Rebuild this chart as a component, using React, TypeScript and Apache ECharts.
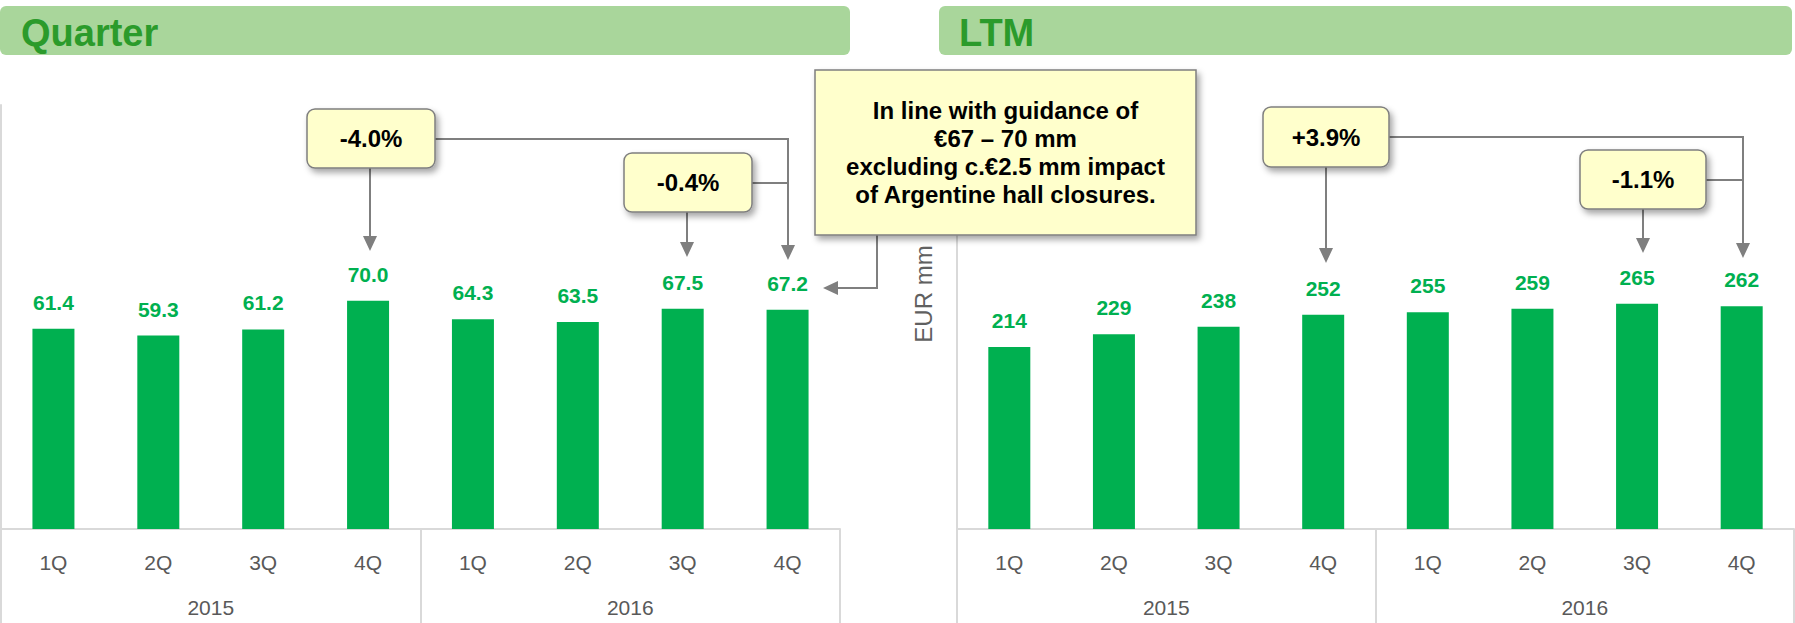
import React, { useEffect, useRef } from "react";
import * as echarts from "echarts";

const quarters = ["1Q", "2Q", "3Q", "4Q", "1Q", "2Q", "3Q", "4Q"];
const years = ["2015", "2016"];
const quarterValues = [61.4, 59.3, 61.2, 70.0, 64.3, 63.5, 67.5, 67.2];
const ltmValues = [214, 229, 238, 252, 255, 259, 265, 262];
const panelTitles = ["Quarter", "LTM"];
const changeLabels = ["-4.0%", "-0.4%", "+3.9%", "-1.1%"];
const guidanceText = [
  "In line with guidance of",
  "€67 – 70 mm",
  "excluding c.€2.5 mm impact",
  "of Argentine hall closures.",
];
const unitLabel = "EUR mm";

const FONT = "'Liberation Sans', Arial, sans-serif";
const GREEN = "#00b050";
const AXIS = "#d9d9d9";
const ARROW = "#7f7f7f";

function arrowDown(x: number, y0: number, tip: number) {
  return [
    { type: "line", shape: { x1: x, y1: y0, x2: x, y2: tip - 14 }, style: { stroke: ARROW, lineWidth: 2 } },
    { type: "polygon", shape: { points: [[x - 7, tip - 15], [x + 7, tip - 15], [x, tip]] }, style: { fill: ARROW } },
  ];
}

function box(x: number, y: number, w: number, h: number, text: string, r = 8) {
  return [
    {
      type: "rect",
      shape: { x, y, width: w, height: h, r },
      style: {
        fill: "#ffffcc",
        stroke: "#7f7f7f",
        lineWidth: 1.5,
        shadowBlur: 6,
        shadowOffsetX: 3,
        shadowOffsetY: 4,
        shadowColor: "rgba(0,0,0,0.35)",
      },
      z: 10,
    },
    {
      type: "text",
      x: x + w / 2,
      y: y + h / 2,
      style: {
        text,
        fill: "#000",
        font: `bold 24px ${FONT}`,
        align: "center",
        verticalAlign: "middle",
        lineHeight: 28,
      },
      z: 11,
    },
  ];
}

function makeAxes(gridIndex: number, max: number) {
  const x = [
    {
      type: "category",
      gridIndex,
      data: quarters,
      position: "bottom",
      axisLine: { show: true, lineStyle: { color: AXIS, width: 2 } },
      axisTick: { show: false },
      axisLabel: { margin: 23, fontSize: 21, color: "#595959", fontFamily: FONT, interval: 0 },
    },
    {
      type: "category",
      gridIndex,
      data: years,
      position: "bottom",
      axisLine: { show: false },
      axisTick: { show: true, length: 94, interval: 0, lineStyle: { color: AXIS, width: 2 } },
      axisLabel: { margin: 68, fontSize: 21, color: "#595959", fontFamily: FONT, interval: 0 },
    },
  ];
  const y = {
    type: "value",
    gridIndex,
    min: 0,
    max,
    axisLine: { show: true, lineStyle: { color: AXIS, width: 2 } },
    axisTick: { show: false },
    axisLabel: { show: false },
    splitLine: { show: false },
  };
  return { x, y };
}

export default function App() {
  const ref = useRef<HTMLDivElement>(null);
  useEffect(() => {
    if (!ref.current) return;
    const chart = echarts.init(ref.current, null, { renderer: "svg" });
    const a1 = makeAxes(0, 130);
    const a2 = makeAxes(1, 500);
    const labelStyle = {
      show: true,
      position: "top",
      distance: 16,
      color: GREEN,
      fontWeight: "bold",
      fontSize: 21,
      fontFamily: FONT,
    };
    const graphic: any[] = [
      { type: "rect", shape: { x: 0, y: 6, width: 850, height: 49, r: 6 }, style: { fill: "#a9d69b" } },
      { type: "text", x: 21, y: 33, style: { text: panelTitles[0], fill: "#2b9b2b", font: `bold 38px ${FONT}`, verticalAlign: "middle" } },
      { type: "rect", shape: { x: 939, y: 6, width: 853, height: 49, r: 6 }, style: { fill: "#a9d69b" } },
      { type: "text", x: 959, y: 33, style: { text: panelTitles[1], fill: "#2b9b2b", font: `bold 38px ${FONT}`, verticalAlign: "middle" } },
      {
        type: "text",
        x: 923,
        y: 294,
        rotation: Math.PI / 2,
        style: { text: unitLabel, fill: "#606060", font: `24px ${FONT}`, align: "center", verticalAlign: "middle" },
      },
      // left annotations
      ...arrowDown(370, 168, 251),
      { type: "polyline", shape: { points: [[435, 139], [788, 139], [788, 246]] }, style: { stroke: ARROW, lineWidth: 2, fill: null } },
      { type: "polygon", shape: { points: [[781, 245], [795, 245], [788, 260]] }, style: { fill: ARROW } },
      { type: "line", shape: { x1: 752, y1: 183, x2: 788, y2: 183 }, style: { stroke: ARROW, lineWidth: 2 } },
      ...arrowDown(687, 212, 257),
      { type: "polyline", shape: { points: [[877, 235], [877, 288], [836, 288]] }, style: { stroke: ARROW, lineWidth: 2, fill: null } },
      { type: "polygon", shape: { points: [[838, 281], [838, 295], [823, 288]] }, style: { fill: ARROW } },
      ...box(307, 109, 128, 59, changeLabels[0]),
      ...box(624, 153, 128, 59, changeLabels[1]),
      // right annotations
      ...arrowDown(1326, 167, 263),
      { type: "polyline", shape: { points: [[1389, 137], [1743, 137], [1743, 244]] }, style: { stroke: ARROW, lineWidth: 2, fill: null } },
      { type: "polygon", shape: { points: [[1736, 243], [1750, 243], [1743, 258]] }, style: { fill: ARROW } },
      { type: "line", shape: { x1: 1706, y1: 180, x2: 1743, y2: 180 }, style: { stroke: ARROW, lineWidth: 2 } },
      ...arrowDown(1643, 209, 253),
      ...box(1263, 107, 126, 60, changeLabels[2]),
      ...box(1580, 150, 126, 59, changeLabels[3]),
      // guidance box
      ...box(815, 70, 381, 165, guidanceText.join("\n"), 0),
    ];
    chart.setOption({
      animation: false,
      grid: [
        { left: 1, top: 105, width: 839, height: 424 },
        { left: 957, top: 104, width: 837, height: 425 },
      ],
      xAxis: [
        { ...a1.x[0] },
        { ...a1.x[1] },
        { ...a2.x[0] },
        { ...a2.x[1] },
      ],
      yAxis: [a1.y, a2.y],
      series: [
        {
          type: "bar",
          xAxisIndex: 0,
          yAxisIndex: 0,
          data: quarterValues,
          barWidth: 42,
          itemStyle: { color: GREEN },
          label: { ...labelStyle, formatter: (p: any) => Number(p.value).toFixed(1) },
        },
        {
          type: "bar",
          xAxisIndex: 2,
          yAxisIndex: 1,
          data: ltmValues,
          barWidth: 42,
          itemStyle: { color: GREEN },
          label: { ...labelStyle },
        },
      ],
      graphic,
    });
    return () => chart.dispose();
  }, []);
  return (
    <div
      ref={ref}
      style={{ position: "absolute", left: 0, top: 0, width: 1795, height: 623, background: "#fff" }}
    />
  );
}
